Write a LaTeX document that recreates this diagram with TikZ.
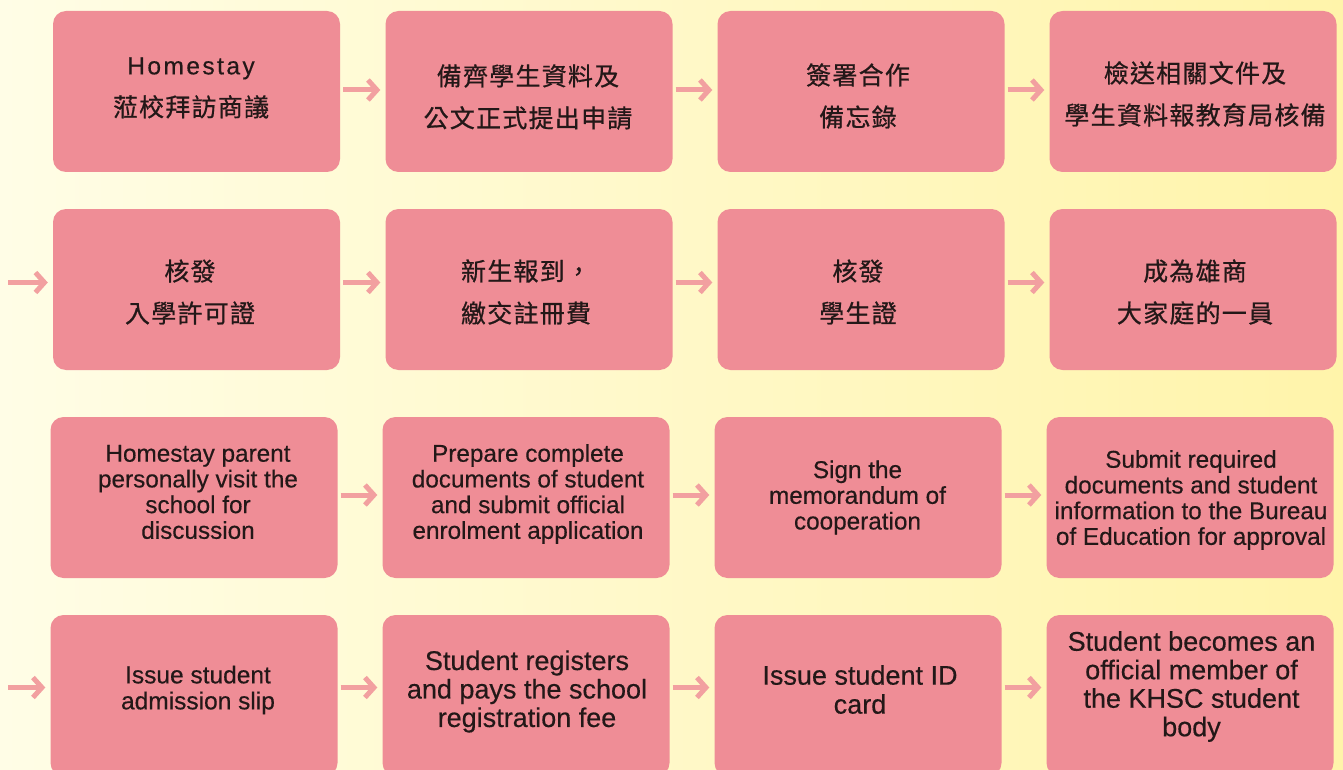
\documentclass[tikz,border=0pt]{standalone}
\usepackage{fontspec}
\setmainfont{Liberation Sans}[FakeBold=0.4]
\newfontfamily\cjk[LetterSpace=5, FakeBold=0.7]{Noto Sans CJK TC}
\newfontfamily\homefont[LetterSpace=10, FakeBold=0.4]{Liberation Sans}
\usetikzlibrary{arrows.meta}
\definecolor{boxpink}{RGB}{239,141,150}
\definecolor{arrowpink}{RGB}{242,160,160}
\definecolor{bgleft}{RGB}{255,253,230}
\definecolor{bgright}{RGB}{255,244,170}
\definecolor{ink}{RGB}{35,24,24}
\begin{document}
\begin{tikzpicture}[x=1pt,y=-1pt,
  box/.style={fill=boxpink, rounded corners=13pt, minimum width=287pt, minimum height=161pt, inner sep=0pt},
  lbl/.style={text=ink, align=center, inner sep=0pt},
  zh/.style={lbl, font=\cjk\fontsize{25}{42}\selectfont},
  enA/.style={lbl, font=\fontsize{24.3}{25.7}\selectfont},
  enB/.style={lbl, font=\fontsize{27}{28.5}\selectfont},
  flow/.style={draw=arrowpink, line width=5pt, -{Straight Barb[length=9pt,width=20pt]}, shorten <=3pt, shorten >=5pt}]
\useasboundingbox (0,0) rectangle (1343,770);
\clip (0,0) rectangle (1343,770);
\shade[left color=bgleft, right color=bgright] (0,0) rectangle (1343,770);

% row 1
\node[box] (r1c1) at (196.5,91.5) {};
\node[box] (r1c2) at (529,91.5) {};
\node[box] (r1c3) at (861,91.5) {};
\node[box] (r1c4) at (1193,91.5) {};
% row 2
\node[box] (r2c1) at (196.5,289.5) {};
\node[box] (r2c2) at (529,289.5) {};
\node[box] (r2c3) at (861,289.5) {};
\node[box] (r2c4) at (1193,289.5) {};
% row 3
\node[box] (r3c1) at (194,497.5) {};
\node[box] (r3c2) at (526,497.5) {};
\node[box] (r3c3) at (858,497.5) {};
\node[box] (r3c4) at (1190,497.5) {};
% row 4
\node[box] (r4c1) at (194,695.5) {};
\node[box] (r4c2) at (526,695.5) {};
\node[box] (r4c3) at (858,695.5) {};
\node[box] (r4c4) at (1190,695.5) {};

% texts row 1
\node[zh] (t1c1) at (191,88) {{\homefont\fontsize{24.5}{42}\selectfont Homestay}\\蒞校拜訪商議};
\node[zh] (t1c2) at (528,97) {備齊學生資料及\\公文正式提出申請};
\node[zh] (t1c3) at (858,96) {簽署合作\\備忘錄};
\node[zh] (t1c4) at (1195,94) {檢送相關文件及\\學生資料報教育局核備};
% texts row 2
\node[zh] (t2c1) at (190,292) {核發\\入學許可證};
\node[zh] (t2c2) at (526,292) {新生報到，\\繳交註冊費};
\node[zh] (t2c3) at (858,292) {核發\\學生證};
\node[zh] (t2c4) at (1195,292) {成為雄商\\大家庭的一員};
% texts row 3
\node[enA] (t3c1) at (198,492) {Homestay parent\\personally visit the\\school for\\discussion};
\node[enA] (t3c2) at (528,494) {Prepare complete\\documents of student\\and submit official\\enrolment application};
\node[enA] (t3c3) at (857.5,497.5) {Sign the\\memorandum of\\cooperation};
\node[enA] (t3c4) at (1191,500) {Submit required\\documents and student\\information to the Bureau\\of Education for approval};
% texts row 4
\node[lbl, font=\fontsize{24.5}{26}\selectfont] (t4c1) at (198,690) {Issue student\\admission slip};
\node[enB] (t4c2) at (527,691.5) {Student registers\\and pays the school\\registration fee};
\node[lbl, font=\fontsize{27}{29}\selectfont] (t4c3) at (860,689.5) {Issue student ID\\card};
\node[enB] (t4c4) at (1191.5,686.5) {Student becomes an\\official member of\\the KHSC student\\body};

% connectors
\coordinate (s2) at (8,282.5);
\coordinate (s4) at (8,687.5);
\draw[flow] ([yshift=1.5pt]r1c1.east) -- ([yshift=1.5pt]r1c2.west);
\draw[flow] ([yshift=1.5pt]r1c2.east) -- ([yshift=1.5pt]r1c3.west);
\draw[flow] ([yshift=1.5pt]r1c3.east) -- ([yshift=1.5pt]r1c4.west);
\draw[flow, shorten <=0pt] (s2) -- ([yshift=7pt]r2c1.west);
\draw[flow] ([yshift=7pt]r2c1.east) -- ([yshift=7pt]r2c2.west);
\draw[flow] ([yshift=7pt]r2c2.east) -- ([yshift=7pt]r2c3.west);
\draw[flow] ([yshift=7pt]r2c3.east) -- ([yshift=7pt]r2c4.west);
\draw[flow] ([yshift=2.5pt]r3c1.east) -- ([yshift=2.5pt]r3c2.west);
\draw[flow] ([yshift=2.5pt]r3c2.east) -- ([yshift=2.5pt]r3c3.west);
\draw[flow] ([yshift=2.5pt]r3c3.east) -- ([yshift=2.5pt]r3c4.west);
\draw[flow, shorten <=0pt] (s4) -- ([yshift=8pt]r4c1.west);
\draw[flow] ([yshift=8pt]r4c1.east) -- ([yshift=8pt]r4c2.west);
\draw[flow] ([yshift=8pt]r4c2.east) -- ([yshift=8pt]r4c3.west);
\draw[flow] ([yshift=8pt]r4c3.east) -- ([yshift=8pt]r4c4.west);
\end{tikzpicture}
\end{document}
